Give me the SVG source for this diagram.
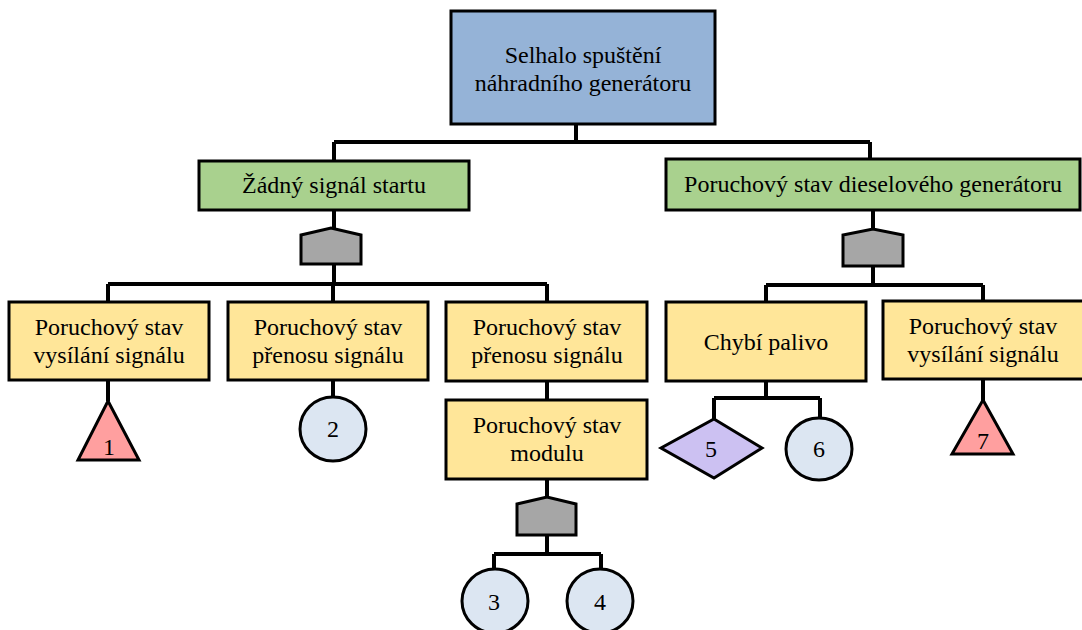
<svg xmlns="http://www.w3.org/2000/svg" width="1082" height="630" viewBox="0 0 1082 630">
  <style>
    .box { stroke: #000; stroke-width: 3; }
    .top { fill: #95b3d7; }
    .mid { fill: #a9d18e; }
    .leaf { fill: #ffe699; }
    .gate { fill: #a6a6a6; stroke: #000; stroke-width: 3; stroke-linejoin: miter; }
    .tri { fill: #ff9f9f; stroke: #000; stroke-width: 3; }
    .circ { fill: #dce6f2; stroke: #000; stroke-width: 3; }
    .dia { fill: #ccc1f2; stroke: #000; stroke-width: 3; }
    .wire { fill: none; stroke: #000; stroke-width: 4; }
    text { fill: #000; text-anchor: middle; }
  </style>

  <!-- connectors -->
  <g id="connectors" class="wire">
    <path d="M576 124 V142 M334 142 H870 M334 142 V161 M870 142 V159"/>
    <path d="M334 210 V228 M334 264 V284 M108 284 H547 M108 284 V302 M333 284 V302 M547 284 V302"/>
    <path d="M873 210 V229 M873 266 V285 M766 285 H983 M766 285 V302 M983 285 V301"/>
    <path d="M108 380 V401 M333 380 V398 M547 381 V400"/>
    <path d="M547 479 V498 M547 535 V554 M494 554 H601 M494 554 V571 M601 554 V571"/>
    <path d="M766 381 V398 M714 398 H820 M714 398 V419 M820 398 V418"/>
    <path d="M983 379 V401"/>
  </g>

  <g font-family="Liberation Serif, Times New Roman, DejaVu Serif, serif" font-size="24">
  <!-- top event -->
  <g id="top-event">
    <rect class="box top" x="451" y="11" width="264" height="113"/>
    <text x="583" y="63">Selhalo spuštění</text>
    <text x="583" y="91">náhradního generátoru</text>
  </g>

  <!-- intermediate events -->
  <g id="no-start-signal">
    <rect class="box mid" x="199" y="161" width="270" height="49"/>
    <text x="334" y="193">Žádný signál startu</text>
  </g>
  <g id="diesel-failure">
    <rect class="box mid" x="666" y="159" width="414" height="51"/>
    <text x="873" y="192">Poruchový stav dieselového generátoru</text>
  </g>

  <!-- OR gates -->
  <g id="gate-left">
    <polygon class="gate" points="301,264 301,235 331,228 361,235 361,264"/>
  </g>
  <g id="gate-right">
    <polygon class="gate" points="843,266 843,235 873,229 903,235 903,266"/>
  </g>
  <g id="gate-module">
    <polygon class="gate" points="517,535 517,504 547,497 576,504 576,535"/>
  </g>

  <!-- failure boxes -->
  <g id="tx-send-left">
    <rect class="box leaf" x="9" y="302" width="200" height="78"/>
    <text x="109" y="335">Poruchový stav</text>
    <text x="109" y="363">vysílání signálu</text>
  </g>
  <g id="tx-transfer-a">
    <rect class="box leaf" x="228" y="302" width="200" height="78"/>
    <text x="328" y="335">Poruchový stav</text>
    <text x="328" y="363">přenosu signálu</text>
  </g>
  <g id="tx-transfer-b">
    <rect class="box leaf" x="446" y="302" width="201" height="79"/>
    <text x="547" y="335">Poruchový stav</text>
    <text x="547" y="363">přenosu signálu</text>
  </g>
  <g id="module">
    <rect class="box leaf" x="446" y="400" width="201" height="79"/>
    <text x="547" y="433">Poruchový stav</text>
    <text x="547" y="461">modulu</text>
  </g>
  <g id="no-fuel">
    <rect class="box leaf" x="666" y="302" width="200" height="79"/>
    <text x="766" y="350">Chybí palivo</text>
  </g>
  <g id="tx-send-right">
    <rect class="box leaf" x="883" y="301" width="201" height="78"/>
    <text x="983" y="334">Poruchový stav</text>
    <text x="983" y="362">vysílání signálu</text>
  </g>

  <!-- terminal symbols -->
  <g id="event-1">
    <polygon class="tri" points="108,401 139,460 78,460"/>
    <text x="109" y="455">1</text>
  </g>
  <g id="event-2">
    <ellipse class="circ" cx="333" cy="429" rx="33" ry="32"/>
    <text x="333" y="437">2</text>
  </g>
  <g id="event-3">
    <ellipse class="circ" cx="495" cy="601" rx="33" ry="32"/>
    <text x="494" y="610">3</text>
  </g>
  <g id="event-4">
    <ellipse class="circ" cx="600" cy="601" rx="33" ry="32"/>
    <text x="600" y="610">4</text>
  </g>
  <g id="event-5">
    <polygon class="dia" points="714,419 762,448 714,478 661,448"/>
    <text x="711" y="457">5</text>
  </g>
  <g id="event-6">
    <ellipse class="circ" cx="819" cy="449" rx="33" ry="31"/>
    <text x="819" y="457">6</text>
  </g>
  <g id="event-7">
    <polygon class="tri" points="983,400 1013,454 952,454"/>
    <text x="983" y="449">7</text>
  </g>
  </g>
</svg>
